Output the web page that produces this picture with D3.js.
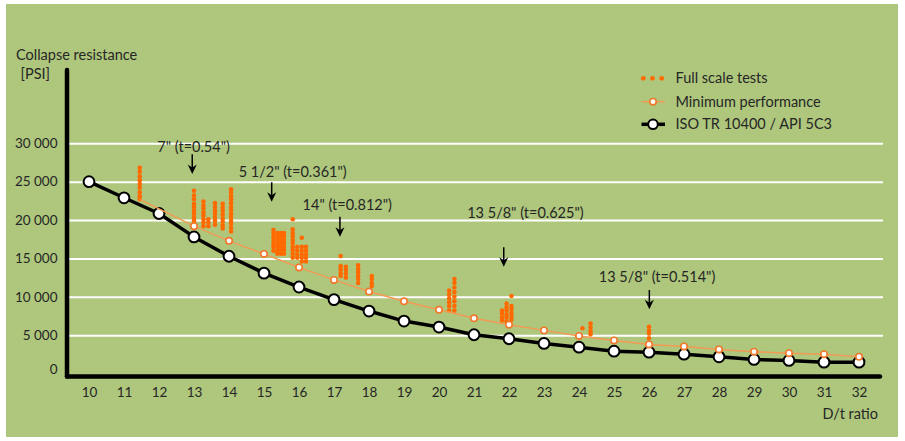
<!DOCTYPE html>
<html>
<head>
<meta charset="utf-8">
<script src="https://cdn.jsdelivr.net/npm/d3@7"></script>
<style>
  html, body { margin: 0; padding: 0; background: #ffffff; }
  svg { display: block; }
  text { font-family: Lato, "Open Sans", sans-serif; }
</style>
</head>
<body>
<svg id="chart" width="905" height="441"></svg>
<script>
// ---- Data -------------------------------------------------------------
const xTicks = [10, 11, 12, 13, 14, 15, 16, 17, 18, 19, 20, 21, 22, 23, 24, 25, 26, 27, 28, 29, 30, 31, 32];
const yTicks = [0, 5000, 10000, 15000, 20000, 25000, 30000];

// ISO TR 10400 / API 5C3 collapse rating
const isoDt  = [10, 11, 12, 13, 14, 15, 16, 17, 18, 19, 20, 21, 22, 23, 24, 25, 26, 27, 28, 29, 30, 31, 32];
const isoPsi = [25000, 22900, 20850, 17800, 15280, 13080, 11270, 9630, 8140, 6830, 6050, 5050, 4530, 3920, 3430, 2910, 2780, 2520, 2180, 1830, 1700, 1480, 1480];

// Minimum performance curve (first point is the curve start, no marker)
const minDt  = [11.45, 13, 14, 15, 16, 17, 18, 19, 20, 21, 22, 23, 24, 25, 26, 27, 28, 29, 30, 31, 32];
const minPsi = [22700, 19200, 17290, 15580, 13830, 12200, 10680, 9410, 8300, 7190, 6360, 5620, 4900, 4310, 3790, 3530, 3140, 2840, 2650, 2520, 2180];

// Full scale collapse tests: [D/t, measured collapse pressures]
const fullScaleTests = [
  [11.45, [26800, 26300, 25700, 25200, 24700, 24200, 23600, 23100, 22700]],
  [13.0,  [23800, 23200, 22700, 22100, 21700, 21200, 20800, 20300, 19900, 19400]],
  [13.27, [22400, 21900, 21500, 21000, 20600, 20100, 19700, 19200]],
  [13.41, [20100, 19700, 19200]],
  [13.6,  [22200, 21700, 21200, 20800, 20300, 19900, 19400]],
  [13.82, [22100, 21600, 21200, 20700, 20200, 19800, 19300, 18900]],
  [14.06, [24000, 23600, 23100, 22700, 22200, 21700, 21300, 20800, 20400, 19900, 19500, 19000, 18500]],
  [15.27, [18700, 18300, 17800, 17400, 16900, 16500, 16000]],
  [15.38, [18300, 17800, 17400, 16900, 16500, 16000, 15600]],
  [15.48, [18300, 17900, 17400, 17000, 16500, 16100, 15600]],
  [15.57, [18300, 17900, 17400, 17000, 16500, 16100, 15600]],
  [15.82, [20100, 18800, 18300, 17900, 17400, 17000, 16500, 16100, 15600, 15100]],
  [15.95, [16500, 16000, 15500, 15100]],
  [16.08, [17700, 16500, 16000, 15500, 15100, 14600]],
  [16.2,  [16500, 16000, 15500, 15100, 14600]],
  [17.19, [15300, 14000, 13600, 13100, 12700]],
  [17.34, [13900, 13500, 13000, 12500]],
  [17.69, [14100, 13600, 13200, 12700, 12300, 11800]],
  [18.08, [12700, 12300, 11800, 11400]],
  [20.29, [10800, 10300, 9800, 9300, 8800, 8200]],
  [20.44, [12300, 11800, 11200, 10600, 10000, 9400, 8800, 8200]],
  [21.8,  [8200, 7800, 7300, 6900]],
  [21.93, [9100, 8600, 8200, 7700, 7300, 6800]],
  [22.07, [10100, 8800, 8400, 7900, 7400, 7000]],
  [24.1,  [5900]],
  [24.33, [6500, 6000, 5500, 5100]],
  [26.0,  [6100, 5600, 5200, 4600]]
];

// Casing size call-outs (data coordinates)
const annoLabels   = ['7" (t=0.54")', '5 1/2" (t=0.361")', '14" (t=0.812")', '13 5/8" (t=0.625")', '13 5/8" (t=0.514")'];
const annoTextDt   = [12.99, 15.82, 17.38, 22.47, 26.23];
const annoTextPsi  = [28900, 25650, 21300, 20250, 11900];
const annoArrowDt  = [12.95, 15.22, 17.17, 21.85, 26.01];
const annoArrowTop = [28560, 24920, 20430, 16450, 10880];
const annoArrowTip = [26000, 22390, 17830, 13920, 8370];

const legendLabels = ['Full scale tests', 'Minimum performance', 'ISO TR 10400 / API 5C3'];

// ---- Styles ---------------------------------------------------------
const C = {
  bg: '#aec77c',
  grid: '#ffffff',
  text: '#262626',
  iso: '#000000',
  dot: '#ff6a00',
  minLine: '#f39a55',
  minMarker: '#f0782a'
};
const FONT = 'Lato, "Open Sans", sans-serif';
const FS_NUM = 13.5;   // tick numbers
const FS = 14.5;       // titles, call-outs, legend

// ---- Chart ----------------------------------------------------------
const svg = d3.select('#chart');

svg.append('rect')
  .attr('x', 6).attr('y', 4).attr('width', 892).attr('height', 433)
  .attr('fill', C.bg);

const x = d3.scaleLinear().domain([10, 32]).range([89, 859]);
const y = d3.scaleLinear().domain([0, 30000]).range([373.5, 143.3]);

const axisX0 = 67;       // vertical axis position
const axisY0 = 376.5;    // horizontal axis position
const gridRight = 883;

// horizontal gridlines
svg.append('g')
  .attr('transform', `translate(${axisX0},0)`)
  .call(d3.axisLeft(y).tickValues(yTicks.filter(v => v > 0)).tickSize(-(gridRight - axisX0)).tickFormat(''))
  .call(g => g.select('.domain').remove())
  .call(g => g.selectAll('line').attr('stroke', C.grid).attr('stroke-width', 2));

// y tick labels
const fmt = d3.formatLocale({ decimal: '.', thousands: ' ', grouping: [3], currency: ['', ''] }).format(',');
svg.append('g')
  .attr('transform', `translate(${axisX0},0)`)
  .attr('font-family', FONT).attr('font-size', FS_NUM)
  .call(d3.axisLeft(y).tickValues(yTicks).tickSize(0).tickPadding(9.5).tickFormat(fmt))
  .call(g => g.select('.domain').remove())
  .call(g => g.selectAll('text').attr('fill', C.text).style('font-size', FS_NUM + 'px'))
  .call(g => g.selectAll('.tick').filter(d => d === 0).select('text').attr('y', -4.5));

// x tick labels
svg.append('g')
  .attr('transform', `translate(0,${axisY0})`)
  .attr('font-family', FONT).attr('font-size', FS_NUM)
  .call(d3.axisBottom(x).tickValues(xTicks).tickSize(0).tickPadding(10.5).tickFormat(d3.format('d')))
  .call(g => g.select('.domain').remove())
  .call(g => g.selectAll('text').attr('fill', C.text).style('font-size', FS_NUM + 'px'));

// axis lines
svg.append('line')
  .attr('x1', axisX0).attr('x2', axisX0).attr('y1', 70).attr('y2', axisY0)
  .attr('stroke', '#000').attr('stroke-width', 4.5).attr('stroke-linecap', 'round');
svg.append('line')
  .attr('x1', axisX0).attr('x2', 880).attr('y1', axisY0).attr('y2', axisY0)
  .attr('stroke', '#000').attr('stroke-width', 4.5).attr('stroke-linecap', 'round');

// axis titles
svg.append('text').attr('x', 16).attr('y', 60)
  .attr('fill', C.text).style('font-size', FS + 'px').text('Collapse resistance');
svg.append('text').attr('x', 20.5).attr('y', 79)
  .attr('fill', C.text).style('font-size', FS + 'px').text('[PSI]');
svg.append('text').attr('x', 878).attr('y', 419).attr('text-anchor', 'end')
  .attr('fill', C.text).style('font-size', FS + 'px').text('D/t ratio');

// ISO / API curve
const iso = isoDt.map((dt, i) => ({ dt, psi: isoPsi[i] }));
const line = d3.line().x(d => x(d.dt)).y(d => y(d.psi));
svg.append('path').datum(iso)
  .attr('d', line).attr('fill', 'none')
  .attr('stroke', C.iso).attr('stroke-width', 3.5).attr('stroke-linejoin', 'round');
svg.append('g').selectAll('circle').data(iso).join('circle')
  .attr('cx', d => x(d.dt)).attr('cy', d => y(d.psi)).attr('r', 5.4)
  .attr('fill', '#fff').attr('stroke', C.iso).attr('stroke-width', 2);

// full scale test points
const tests = fullScaleTests.flatMap(([dt, list]) => list.map(psi => ({ dt, psi })));
svg.append('g').selectAll('circle').data(tests).join('circle')
  .attr('cx', d => x(d.dt)).attr('cy', d => y(d.psi)).attr('r', 2.3)
  .attr('fill', C.dot);

// minimum performance curve
const minPerf = minDt.map((dt, i) => ({ dt, psi: minPsi[i] }));
svg.append('path').datum(minPerf)
  .attr('d', line).attr('fill', 'none')
  .attr('stroke', C.minLine).attr('stroke-width', 1.5);
svg.append('g').selectAll('circle').data(minPerf.filter(d => Number.isInteger(d.dt))).join('circle')
  .attr('cx', d => x(d.dt)).attr('cy', d => y(d.psi)).attr('r', 3.2)
  .attr('fill', '#fff').attr('stroke', C.minMarker).attr('stroke-width', 1.6);

// call-outs
const anno = svg.append('g');
annoLabels.forEach((label, i) => {
  anno.append('text')
    .attr('x', x(annoTextDt[i])).attr('y', y(annoTextPsi[i]))
    .attr('text-anchor', 'middle').attr('fill', C.text)
    .style('font-size', FS + 'px').text(label);
  const ax = x(annoArrowDt[i]);
  const yTop = y(annoArrowTop[i]);
  const yTip = y(annoArrowTip[i]);
  anno.append('line')
    .attr('x1', ax).attr('x2', ax).attr('y1', yTop).attr('y2', yTip - 6)
    .attr('stroke', '#000').attr('stroke-width', 1.5);
  anno.append('path')
    .attr('d', `M${ax - 4.5},${yTip - 9.5} L${ax},${yTip - 6.5} L${ax + 4.5},${yTip - 9.5} L${ax},${yTip} Z`)
    .attr('fill', '#000');
});

// legend
const lg = svg.append('g');
const lgX = 641.5, lgTextX = 675.5;
const rowY = [78.3, 101.7, 124.3];
[643.3, 652.5, 661.7].forEach(cx => {
  lg.append('circle').attr('cx', cx).attr('cy', rowY[0]).attr('r', 2.4).attr('fill', C.dot);
});
lg.append('line').attr('x1', lgX).attr('x2', lgX + 23.5).attr('y1', rowY[1]).attr('y2', rowY[1])
  .attr('stroke', C.minLine).attr('stroke-width', 1.5);
lg.append('circle').attr('cx', lgX + 11.5).attr('cy', rowY[1]).attr('r', 3.2)
  .attr('fill', '#fff').attr('stroke', C.minMarker).attr('stroke-width', 1.6);
lg.append('line').attr('x1', lgX).attr('x2', lgX + 23.5).attr('y1', rowY[2]).attr('y2', rowY[2])
  .attr('stroke', C.iso).attr('stroke-width', 3.5);
lg.append('circle').attr('cx', lgX + 11.5).attr('cy', rowY[2]).attr('r', 4.8)
  .attr('fill', '#fff').attr('stroke', C.iso).attr('stroke-width', 2);
legendLabels.forEach((label, i) => {
  lg.append('text').attr('x', lgTextX).attr('y', rowY[i]).attr('dy', '0.35em')
    .attr('fill', C.text).style('font-size', FS + 'px').text(label);
});
</script>
</body>
</html>
